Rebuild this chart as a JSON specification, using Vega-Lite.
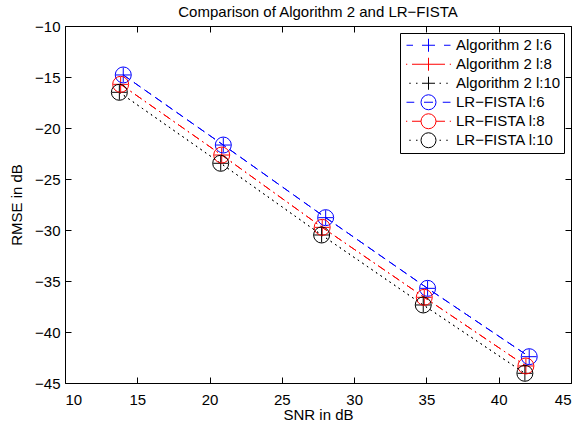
{
  "$schema": "https://vega.github.io/schema/vega-lite/v6.json",
  "autosize": {"type": "none"},
  "width": 506,
  "height": 357,
  "padding": {"left": 65, "top": 26, "right": 8, "bottom": 42},
  "background": "#ffffff",
  "title": {
    "text": "Comparison of Algorithm 2 and LR−FISTA",
    "font": "Liberation Sans",
    "fontSize": 15,
    "fontWeight": "normal",
    "color": "#000000",
    "anchor": "middle",
    "offset": -1
  },
  "config": {
    "view": {"stroke": "#000000", "strokeWidth": 1},
    "axis": {
      "domain": false,
      "grid": false,
      "ticks": true,
      "tickSize": -6,
      "tickColor": "#000000",
      "tickWidth": 1,
      "labelFont": "Liberation Sans",
      "labelFontSize": 15,
      "labelColor": "#000000",
      "titleFont": "Liberation Sans",
      "titleFontSize": 15,
      "titleFontWeight": "normal",
      "titleColor": "#000000"
    }
  },
  "data": {
    "values": [
      {"series": "Algorithm 2 l:6", "snr": 14.03, "rmse": -14.80},
      {"series": "Algorithm 2 l:6", "snr": 20.95, "rmse": -21.67},
      {"series": "Algorithm 2 l:6", "snr": 28.03, "rmse": -28.79},
      {"series": "Algorithm 2 l:6", "snr": 35.08, "rmse": -35.72},
      {"series": "Algorithm 2 l:6", "snr": 42.11, "rmse": -42.42},
      {"series": "Algorithm 2 l:8", "snr": 13.85, "rmse": -15.72},
      {"series": "Algorithm 2 l:8", "snr": 20.84, "rmse": -22.65},
      {"series": "Algorithm 2 l:8", "snr": 27.79, "rmse": -29.74},
      {"series": "Algorithm 2 l:8", "snr": 34.85, "rmse": -36.60},
      {"series": "Algorithm 2 l:8", "snr": 41.88, "rmse": -43.33},
      {"series": "Algorithm 2 l:10", "snr": 13.76, "rmse": -16.50},
      {"series": "Algorithm 2 l:10", "snr": 20.77, "rmse": -23.46},
      {"series": "Algorithm 2 l:10", "snr": 27.75, "rmse": -30.49},
      {"series": "Algorithm 2 l:10", "snr": 34.78, "rmse": -37.35},
      {"series": "Algorithm 2 l:10", "snr": 41.81, "rmse": -44.05},
      {"series": "LR−FISTA l:6", "snr": 14.03, "rmse": -14.80},
      {"series": "LR−FISTA l:6", "snr": 20.95, "rmse": -21.67},
      {"series": "LR−FISTA l:6", "snr": 28.03, "rmse": -28.79},
      {"series": "LR−FISTA l:6", "snr": 35.08, "rmse": -35.72},
      {"series": "LR−FISTA l:6", "snr": 42.11, "rmse": -42.42},
      {"series": "LR−FISTA l:8", "snr": 13.85, "rmse": -15.72},
      {"series": "LR−FISTA l:8", "snr": 20.84, "rmse": -22.65},
      {"series": "LR−FISTA l:8", "snr": 27.79, "rmse": -29.74},
      {"series": "LR−FISTA l:8", "snr": 34.85, "rmse": -36.60},
      {"series": "LR−FISTA l:8", "snr": 41.88, "rmse": -43.33},
      {"series": "LR−FISTA l:10", "snr": 13.76, "rmse": -16.50},
      {"series": "LR−FISTA l:10", "snr": 20.77, "rmse": -23.46},
      {"series": "LR−FISTA l:10", "snr": 27.75, "rmse": -30.49},
      {"series": "LR−FISTA l:10", "snr": 34.78, "rmse": -37.35},
      {"series": "LR−FISTA l:10", "snr": 41.81, "rmse": -44.05}
    ]
  },
  "layer": [
    {
      "transform": [{"filter": {"field": "series", "oneOf": ["Algorithm 2 l:6", "LR−FISTA l:6"]}}],
      "mark": {"type": "line", "strokeWidth": 1, "strokeDash": [8, 5]},
      "encoding": {
        "x": {
          "field": "snr", "type": "quantitative",
          "scale": {"domain": [10, 45], "nice": false, "zero": false},
          "axis": {"values": [10, 15, 20, 25, 30, 35, 40, 45], "title": "SNR in dB", "labelPadding": 15, "titlePadding": 0}
        },
        "y": {
          "field": "rmse", "type": "quantitative",
          "scale": {"domain": [-45, -10], "nice": false, "zero": false},
          "axis": {"values": [-45, -40, -35, -30, -25, -20, -15, -10], "title": "RMSE in dB", "labelPadding": 11, "titlePadding": 10}
        },
        "color": {
          "field": "series", "type": "nominal",
          "scale": {
            "domain": ["Algorithm 2 l:6", "Algorithm 2 l:8", "Algorithm 2 l:10", "LR−FISTA l:6", "LR−FISTA l:8", "LR−FISTA l:10"],
            "range": ["#0000ff", "#ff0000", "#000000", "#0000ff", "#ff0000", "#000000"]
          }
        }
      }
    },
    {
      "transform": [{"filter": {"field": "series", "oneOf": ["Algorithm 2 l:8", "LR−FISTA l:8"]}}],
      "mark": {"type": "line", "strokeWidth": 1, "strokeDash": [8, 4, 1.5, 4]},
      "encoding": {
        "x": {"field": "snr", "type": "quantitative", "axis": null},
        "y": {"field": "rmse", "type": "quantitative", "axis": null},
        "color": {"field": "series", "type": "nominal"}
      }
    },
    {
      "transform": [{"filter": {"field": "series", "oneOf": ["Algorithm 2 l:10", "LR−FISTA l:10"]}}],
      "mark": {"type": "line", "strokeWidth": 1, "strokeDash": [1.5, 4]},
      "encoding": {
        "x": {"field": "snr", "type": "quantitative", "axis": null},
        "y": {"field": "rmse", "type": "quantitative", "axis": null},
        "color": {"field": "series", "type": "nominal"}
      }
    },
    {
      "transform": [{"filter": {"field": "series", "oneOf": ["Algorithm 2 l:6", "Algorithm 2 l:8", "Algorithm 2 l:10"]}}],
      "mark": {"type": "point", "filled": false, "strokeWidth": 1, "size": 256, "opacity": 1, "shape": "M-0.94,0H0.94M0,-0.94V0.94"},
      "encoding": {
        "x": {"field": "snr", "type": "quantitative", "axis": null},
        "y": {"field": "rmse", "type": "quantitative", "axis": null},
        "color": {"field": "series", "type": "nominal"}
      }
    },
    {
      "transform": [{"filter": {"field": "series", "oneOf": ["LR−FISTA l:6", "LR−FISTA l:8", "LR−FISTA l:10"]}}],
      "mark": {"type": "point", "filled": false, "strokeWidth": 1, "size": 256, "opacity": 1, "shape": "circle"},
      "encoding": {
        "x": {"field": "snr", "type": "quantitative", "axis": null},
        "y": {"field": "rmse", "type": "quantitative", "axis": null},
        "color": {"field": "series", "type": "nominal"}
      }
    },
    {
      "mark": {"type": "point", "filled": false, "opacity": 0},
      "encoding": {
        "x": {
          "field": "snr", "type": "quantitative",
          "axis": {"orient": "top", "values": [10, 15, 20, 25, 30, 35, 40, 45], "labels": false, "title": null}
        },
        "y": {
          "field": "rmse", "type": "quantitative",
          "axis": {"orient": "right", "values": [-45, -40, -35, -30, -25, -20, -15, -10], "labels": false, "title": null}
        },
        "shape": {
          "field": "series", "type": "nominal",
          "scale": {
            "domain": ["Algorithm 2 l:6", "Algorithm 2 l:8", "Algorithm 2 l:10", "LR−FISTA l:6", "LR−FISTA l:8", "LR−FISTA l:10"],
            "range": [
              "M-0.88,0H-0.62M-0.26,0H0.26M0.62,0H0.88M0,-0.26V0.26",
              "M-0.9,0H-0.85M-0.66,0H0.66M0.85,0H0.9M0,-0.26V0.26",
              "M-0.77,0H-0.71M-0.5,0H-0.44M0.44,0H0.5M0.71,0H0.77M-0.26,0H0.26M0,-0.26V0.26",
              "M-0.88,0H-0.57M-0.18,0H0.18M0.57,0H0.88M0.3,0L0.2772,0.1148L0.2121,0.2121L0.1148,0.2772L0,0.3L-0.1148,0.2772L-0.2121,0.2121L-0.2772,0.1148L-0.3,0L-0.2772,-0.1148L-0.2121,-0.2121L-0.1148,-0.2772L0,-0.3L0.1148,-0.2772L0.2121,-0.2121L0.2772,-0.1148Z",
              "M-0.9,0H-0.85M-0.66,0H-0.3M0.3,0H0.66M0.85,0H0.9M0.3,0L0.2772,0.1148L0.2121,0.2121L0.1148,0.2772L0,0.3L-0.1148,0.2772L-0.2121,0.2121L-0.2772,0.1148L-0.3,0L-0.2772,-0.1148L-0.2121,-0.2121L-0.1148,-0.2772L0,-0.3L0.1148,-0.2772L0.2121,-0.2121L0.2772,-0.1148Z",
              "M-0.77,0H-0.71M-0.5,0H-0.44M0.44,0H0.5M0.71,0H0.77M0.3,0L0.2772,0.1148L0.2121,0.2121L0.1148,0.2772L0,0.3L-0.1148,0.2772L-0.2121,0.2121L-0.2772,0.1148L-0.3,0L-0.2772,-0.1148L-0.2121,-0.2121L-0.1148,-0.2772L0,-0.3L0.1148,-0.2772L0.2121,-0.2121L0.2772,-0.1148Z"
            ]
          }
        },
        "color": {
          "field": "series", "type": "nominal",
          "legend": {
            "title": null,
            "orient": "top-right",
            "offset": 7,
            "padding": 3,
            "fillColor": "#ffffff",
            "strokeColor": "#000000",
            "symbolSize": 2500,
            "symbolOpacity": 1,
            "symbolFillColor": "transparent",
            "clipHeight": 18.5,
            "rowPadding": 0,
            "labelOffset": 2,
            "labelFont": "Liberation Sans",
            "labelFontSize": 15,
            "labelColor": "#000000",
            "symbolStrokeWidth": 1
          }
        }
      }
    }
  ],
  "resolve": {"axis": {"x": "independent", "y": "independent"}}
}
